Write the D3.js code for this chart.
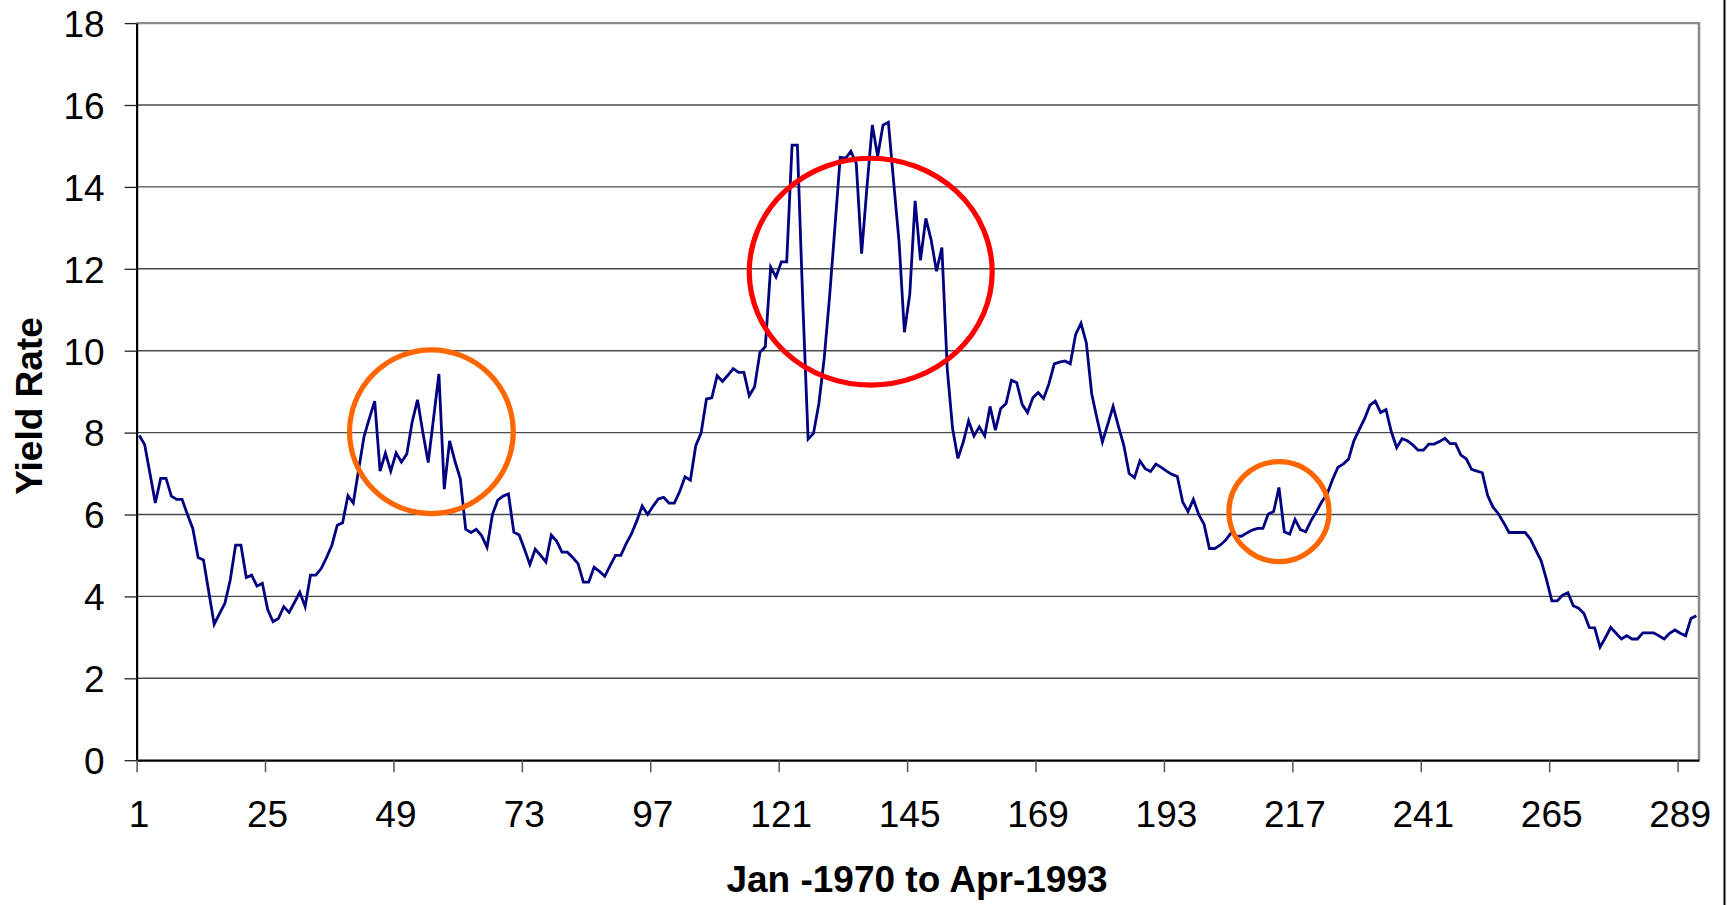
<!DOCTYPE html>
<html>
<head>
<meta charset="utf-8">
<script src="https://cdn.jsdelivr.net/npm/d3@7"></script>
<style>
  html, body { margin: 0; padding: 0; background: #ffffff; }
  svg { display: block; }
</style>
</head>
<body>
<svg id="chart" width="1728" height="905"></svg>
<script>
// ---- data ----
const yieldRate = [
  7.93, 7.71, 7.00, 6.28, 6.88, 6.88, 6.45, 6.37, 6.37, 6.00,
  5.66, 4.95, 4.89, 4.10, 3.32, 3.58, 3.83, 4.40, 5.25, 5.25,
  4.46, 4.52, 4.25, 4.32, 3.68, 3.38, 3.46, 3.75, 3.61, 3.85,
  4.10, 3.75, 4.52, 4.52, 4.68, 4.95, 5.25, 5.74, 5.80, 6.46,
  6.28, 7.10, 7.90, 8.35, 8.77, 7.06, 7.50, 7.06, 7.50, 7.28,
  7.48, 8.26, 8.80, 8.00, 7.27, 8.35, 9.43, 6.62, 7.80, 7.30,
  6.87, 5.64, 5.56, 5.64, 5.48, 5.20, 6.00, 6.35, 6.45, 6.50,
  5.57, 5.50, 5.15, 4.78, 5.15, 5.00, 4.84, 5.50, 5.35, 5.08,
  5.08, 4.95, 4.80, 4.35, 4.35, 4.71, 4.61, 4.49, 4.75, 5.00,
  5.00, 5.29, 5.53, 5.85, 6.21, 6.00, 6.20, 6.38, 6.42, 6.28,
  6.28, 6.56, 6.92, 6.84, 7.68, 7.99, 8.82, 8.85, 9.39, 9.25,
  9.40, 9.56, 9.47, 9.47, 8.90, 9.12, 9.96, 10.10, 12.04, 11.80,
  12.17, 12.17, 15.02, 15.02, 11.20, 7.84, 7.98, 8.70, 9.80, 11.30,
  13.00, 14.72, 14.70, 14.87, 14.57, 12.37, 14.00, 15.51, 14.75, 15.51,
  15.58, 14.10, 12.66, 10.45, 11.38, 13.66, 12.21, 13.23, 12.70, 11.94,
  12.52, 9.56, 8.10, 7.37, 7.77, 8.29, 7.92, 8.14, 7.92, 8.64,
  8.06, 8.59, 8.71, 9.28, 9.22, 8.69, 8.49, 8.85, 8.98, 8.83,
  9.19, 9.68, 9.72, 9.75, 9.68, 10.40, 10.67, 10.19, 8.95, 8.34,
  7.77, 8.20, 8.64, 8.15, 7.69, 7.00, 6.90, 7.31, 7.12, 7.05,
  7.23, 7.15, 7.06, 6.98, 6.93, 6.31, 6.07, 6.37, 6.00, 5.76,
  5.17, 5.17, 5.25, 5.37, 5.54, 5.48, 5.47, 5.55, 5.62, 5.66,
  5.66, 6.01, 6.07, 6.66, 5.58, 5.52, 5.88, 5.63, 5.58, 5.85,
  6.07, 6.31, 6.50, 6.85, 7.15, 7.23, 7.35, 7.80, 8.07, 8.34,
  8.67, 8.77, 8.49, 8.56, 8.02, 7.63, 7.85, 7.80, 7.70, 7.57,
  7.57, 7.72, 7.72, 7.78, 7.86, 7.73, 7.73, 7.45, 7.36, 7.10,
  7.06, 7.02, 6.46, 6.18, 6.02, 5.80, 5.56, 5.56, 5.56, 5.56,
  5.40, 5.13, 4.87, 4.41, 3.89, 3.89, 4.03, 4.09, 3.77, 3.71,
  3.58, 3.24, 3.23, 2.76, 2.99, 3.24, 3.10, 2.96, 3.04, 2.96,
  2.96, 3.11, 3.11, 3.11, 3.04, 2.96, 3.10, 3.18, 3.10, 3.04,
  3.46, 3.53
];
const xTickLabels = [1, 25, 49, 73, 97, 121, 145, 169, 193, 217, 241, 265, 289];
const yTickLabels = [0, 2, 4, 6, 8, 10, 12, 14, 16, 18];
const xTitle = "Jan -1970 to Apr-1993";
const yTitle = "Yield Rate";
// highlighted areas: centre (month index, yield) and radii (months, yield)
const highlightCx = [55.6, 137.7, 214.0];
const highlightCy = [8.02, 11.93, 6.07];
const highlightRx = [15.3, 22.7, 9.35];
const highlightRy = [2.0, 2.77, 1.22];
const highlightColor = ["#ff6600", "#ff0000", "#ff6600"];

(function () {
  // ---- layout ----
  const plotL = 136.6, plotR = 1699, plotT = 23.1, plotB = 760.2;
  const svg = d3.select("#chart");
  const x = d3.scaleLinear().domain([0.5, yieldRate.length + 0.5]).range([plotL, plotR]);
  const y = d3.scaleLinear().domain([0, 18]).range([plotB, plotT]);
  const font = "'Liberation Sans', Arial, Helvetica, sans-serif";

  // gridlines
  svg.append("g").selectAll("line")
    .data(yTickLabels.filter(v => v > 0 && v < 18))
    .join("line")
    .attr("x1", plotL).attr("x2", plotR)
    .attr("y1", d => y(d)).attr("y2", d => y(d))
    .attr("stroke", "#4a4a4a").attr("stroke-width", 1.4);

  // plot frame top and right (grey)
  svg.append("line").attr("x1", plotL).attr("x2", plotR + 1.2)
    .attr("y1", y(18)).attr("y2", y(18))
    .attr("stroke", "#8a8a8a").attr("stroke-width", 2.4);
  svg.append("line").attr("x1", plotR).attr("x2", plotR)
    .attr("y1", y(18) - 1.2).attr("y2", y(0))
    .attr("stroke", "#8a8a8a").attr("stroke-width", 2.6);

  // outer border line at right
  svg.append("line").attr("x1", 1724.5).attr("x2", 1724.5)
    .attr("y1", 0).attr("y2", 905)
    .attr("stroke", "#000").attr("stroke-width", 2);

  // y axis
  const yAxis = svg.append("g")
    .attr("transform", `translate(${plotL},0)`)
    .call(d3.axisLeft(y).tickValues(yTickLabels).tickSize(12).tickSizeOuter(0).tickPadding(20).tickFormat(d3.format("d")));
  yAxis.select(".domain").attr("stroke", "#000").attr("stroke-width", 2.2);
  yAxis.selectAll(".tick line").attr("stroke", "#222").attr("stroke-width", 1.3);
  yAxis.selectAll(".tick text")
    .attr("font-family", font).attr("font-size", 37).attr("fill", "#000")
    .attr("dy", "0.36em");

  // x axis (ticks between months at every 24th category)
  const xAxis = svg.append("g")
    .attr("transform", `translate(0,${plotB})`)
    .call(d3.axisBottom(x).tickValues(xTickLabels.map(v => v - 0.5)).tickSize(12).tickSizeOuter(0)
      .tickFormat(d => String(d + 0.5)));
  xAxis.select(".domain").attr("stroke", "#000").attr("stroke-width", 2.2);
  xAxis.selectAll(".tick line").attr("stroke", "#555").attr("stroke-width", 1.5);
  xAxis.selectAll(".tick text")
    .attr("font-family", font).attr("font-size", 37).attr("fill", "#000")
    .attr("y", 67).attr("dy", 0).attr("dx", 2);

  // data line
  svg.append("path")
    .datum(yieldRate)
    .attr("d", d3.line().x((d, i) => x(i + 1)).y(d => y(d)))
    .attr("fill", "none")
    .attr("stroke", "#000080")
    .attr("stroke-width", 2.8)
    .attr("stroke-linejoin", "miter");

  // highlight ellipses
  svg.append("g").selectAll("ellipse")
    .data(highlightCx.map((cx, i) => i))
    .join("ellipse")
    .attr("cx", i => x(highlightCx[i]))
    .attr("cy", i => y(highlightCy[i]))
    .attr("rx", i => x(highlightCx[i] + highlightRx[i]) - x(highlightCx[i]))
    .attr("ry", i => y(highlightCy[i] - highlightRy[i]) - y(highlightCy[i]))
    .attr("fill", "none")
    .attr("stroke", i => highlightColor[i])
    .attr("stroke-width", 5.2);

  // titles
  svg.append("text")
    .attr("x", 917).attr("y", 892)
    .attr("text-anchor", "middle")
    .attr("font-family", font).attr("font-weight", "bold").attr("font-size", 37)
    .attr("fill", "#000")
    .text(xTitle);

  svg.append("text")
    .attr("transform", "translate(41.5,406) rotate(-90)")
    .attr("text-anchor", "middle")
    .attr("font-family", font).attr("font-weight", "bold").attr("font-size", 37)
    .attr("fill", "#000")
    .text(yTitle);
})();
</script>
</body>
</html>
